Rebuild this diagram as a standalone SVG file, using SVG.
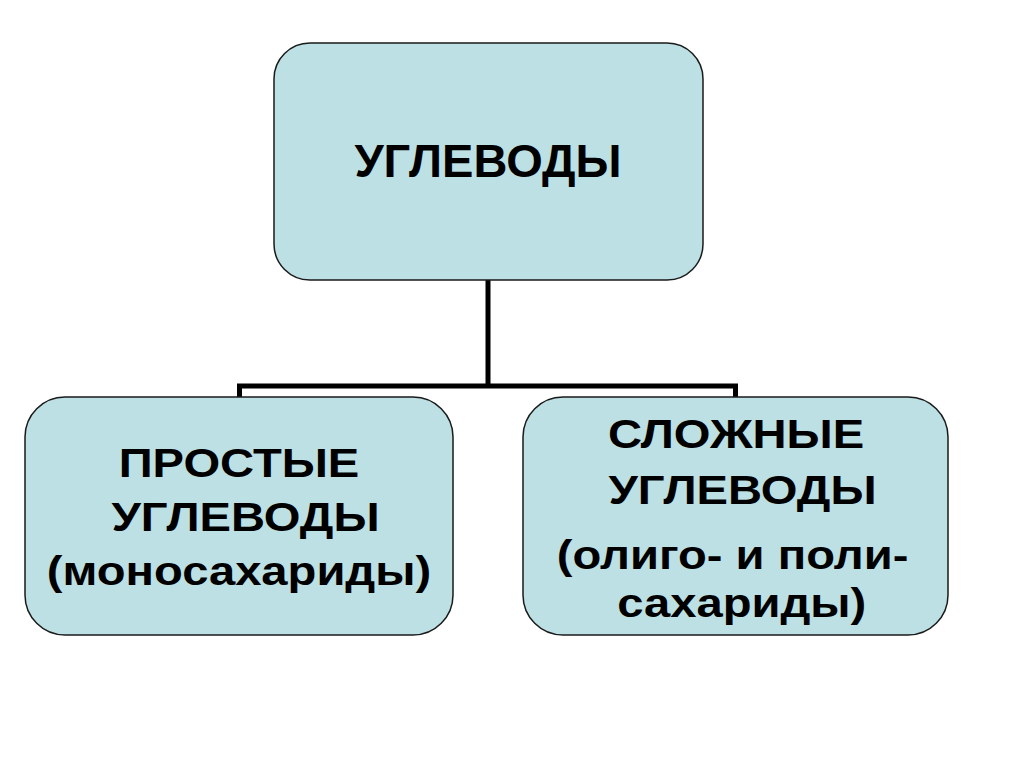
<svg xmlns="http://www.w3.org/2000/svg" width="1024" height="767" viewBox="0 0 1024 767">
<style>
.box{fill:#bce0e3;stroke:#1a1a1a;stroke-width:1.5}
.t{font-family:"Liberation Sans",Arial,sans-serif;font-weight:bold;fill:#000;text-anchor:middle}
.big{font-size:47px}
.sm{font-size:41px}
.conn{fill:none;stroke:#000;stroke-width:5;stroke-linejoin:miter;stroke-linecap:square}
</style>
<rect width="1024" height="767" fill="#fff"/>
<g id="connectors">
<path class="conn" d="M488,281 V386 M239.5,395 V386 H735.5 V395"/>
</g>
<g id="node-root">
<rect class="box" x="274" y="43" width="429" height="237" rx="36" ry="36"/>
<text class="t big" x="488" y="177">УГЛЕВОДЫ</text>
</g>
<g id="node-simple">
<rect class="box" x="25" y="397" width="428" height="238" rx="40" ry="40"/>
<g transform="translate(239,0) scale(1.15,1)">
<text class="t sm" x="0" y="477">ПРОСТЫЕ</text>
<text class="t sm" x="5.7" y="531">УГЛЕВОДЫ</text>
<text class="t sm" x="0" y="585">(моносахариды)</text>
</g>
</g>
<g id="node-complex">
<rect class="box" x="523" y="397" width="425" height="238" rx="40" ry="40"/>
<g transform="translate(736,0) scale(1.15,1)">
<text class="t sm" x="0" y="448">СЛОЖНЫЕ</text>
<text class="t sm" x="5.7" y="504">УГЛЕВОДЫ</text>
<text class="t sm" x="-3" y="569">(олиго- и поли-</text>
<text class="t sm" x="5" y="617">сахариды)</text>
</g>
</g>
</svg>
